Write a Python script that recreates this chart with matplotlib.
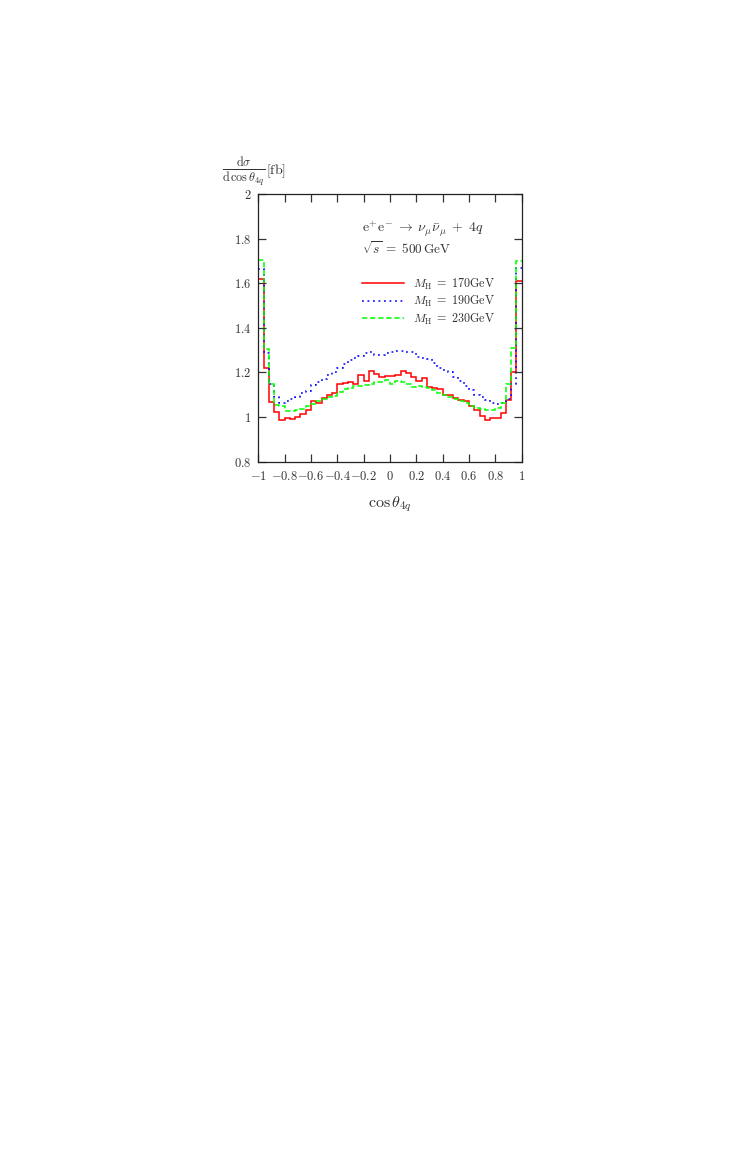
import numpy as np
import matplotlib
matplotlib.use("Agg")
import matplotlib.pyplot as plt
from matplotlib.lines import Line2D

plt.rcParams['mathtext.fontset'] = 'cm'
plt.rcParams['font.family'] = 'serif'

# 50 bins in cos(theta_4q) from -1 to 1
edges = np.linspace(-1., 1., 51)

mh170 = [1.62, 1.22, 1.066, 1.024, 0.987, 0.994, 0.99, 1.0, 1.015, 1.03,
         1.07, 1.065, 1.087, 1.10, 1.108, 1.15, 1.153, 1.157, 1.148, 1.19,
         1.16, 1.205, 1.195, 1.18, 1.185, 1.185, 1.19, 1.205, 1.198, 1.18,
         1.16, 1.175, 1.136, 1.13, 1.125, 1.10, 1.10, 1.085, 1.077, 1.07,
         1.05, 1.03, 1.005, 0.987, 0.994, 0.995, 1.017, 1.077, 1.20, 1.61]

mh190 = [1.663, 1.287, 1.15, 1.09, 1.065, 1.07, 1.08, 1.092, 1.107, 1.115,
         1.145, 1.157, 1.17, 1.19, 1.20, 1.22, 1.24, 1.255, 1.265, 1.275,
         1.285, 1.29, 1.28, 1.28, 1.285, 1.29, 1.295, 1.295, 1.29, 1.29,
         1.27, 1.265, 1.26, 1.241, 1.222, 1.21, 1.20, 1.18, 1.16, 1.14,
         1.12, 1.10, 1.09, 1.075, 1.062, 1.06, 1.065, 1.08, 1.15, 1.67]

mh230 = [1.705, 1.305, 1.15, 1.054, 1.05, 1.027, 1.027, 1.03, 1.037, 1.048,
         1.06, 1.072, 1.082, 1.09, 1.095, 1.112, 1.127, 1.13, 1.138, 1.14,
         1.145, 1.15, 1.155, 1.155, 1.165, 1.15, 1.16, 1.158, 1.148, 1.135,
         1.14, 1.135, 1.13, 1.122, 1.11, 1.10, 1.09, 1.08, 1.072, 1.063,
         1.05, 1.04, 1.035, 1.03, 1.03, 1.04, 1.065, 1.15, 1.31, 1.70]

labels = [r'$M_{\rm H}\;=\;170{\rm GeV}$', r'$M_{\rm H}\;=\;190{\rm GeV}$',
          r'$M_{\rm H}\;=\;230{\rm GeV}$']

xticks = [-1, -0.8, -0.6, -0.4, -0.2, 0, 0.2, 0.4, 0.6, 0.8, 1]
xticklabels = ['$-1$', '$-0.8$', '$-0.6$', '$-0.4$', '$-0.2$', '$0$',
               '$0.2$', '$0.4$', '$0.6$', '$0.8$', '$1$']
yticks = [0.8, 1.0, 1.2, 1.4, 1.6, 1.8, 2.0]
yticklabels = ['$0.8$', '$1$', '$1.2$', '$1.4$', '$1.6$', '$1.8$', '$2$']

colors = ['#ff0000', '#0000ff', '#00ff00']
styles = ['-', (0, (1.2, 2.4)), (0, (3.5, 1.8))]
tc = '#333333'

fig = plt.figure(figsize=(7.45, 11.7), dpi=100)
ax = fig.add_axes([0.3467, 0.6054, 0.3536, 0.2288])

handles = []
for vals, c, ls, lab in zip([mh170, mh190, mh230], colors, styles, labels):
    ax.stairs(vals, edges, baseline=None, color=c, lw=1.1, linestyle=ls)
    handles.append(Line2D([], [], color=c, lw=1.1, linestyle=ls, label=lab))

ax.set_xlim(-1, 1)
ax.set_ylim(0.8, 2)
ax.set_xticks(xticks)
ax.set_xticklabels(xticklabels, fontsize=9)
ax.set_yticks(yticks)
ax.set_yticklabels(yticklabels, fontsize=9)
ax.tick_params(direction='in', length=6, width=0.9, top=True, right=True,
               pad=5, colors=tc, labelcolor=tc)
ax.tick_params(axis='x', pad=6)
for s in ax.spines.values():
    s.set_linewidth(0.9)
    s.set_color('#222222')

fr = ax.text(-0.138, 1.085,
             r'$\frac{\mathrm{d}\sigma}{\mathrm{d}\,\cos\theta_{4q}}$',
             transform=ax.transAxes, ha='left', va='center', fontsize=12.5,
             color=tc)
ax.annotate(r'$[\mathrm{fb}]$', xy=(1, 0.5), xycoords=fr, xytext=(1, 0),
            textcoords='offset points', ha='left', va='center', fontsize=10,
            color=tc)
ax.text(0.5, -0.16, r'$\cos\theta_{4q}$', transform=ax.transAxes,
        ha='center', va='center', fontsize=11.5, color=tc)

ax.text(0.394, 0.869,
        r'$\mathrm{e}^{+}\mathrm{e}^{-}\;\rightarrow\;\nu_{\mu}\bar{\nu}_{\mu}\;+\;4q$',
        transform=ax.transAxes, ha='left', va='center', fontsize=10,
        color=tc)
ax.text(0.394, 0.795, r'$\sqrt{s}\;=\;500\,\mathrm{GeV}$',
        transform=ax.transAxes, ha='left', va='center', fontsize=9.5,
        color=tc)

leg = ax.legend(handles=handles, loc='upper left',
                bbox_to_anchor=(0.385, 0.70), frameon=False,
                fontsize=8.7, handlelength=3.5, handletextpad=0.7,
                labelspacing=0.2, borderpad=0.2, borderaxespad=0)
for t in leg.get_texts():
    t.set_color(tc)

fig.savefig('out.png', dpi=100)
